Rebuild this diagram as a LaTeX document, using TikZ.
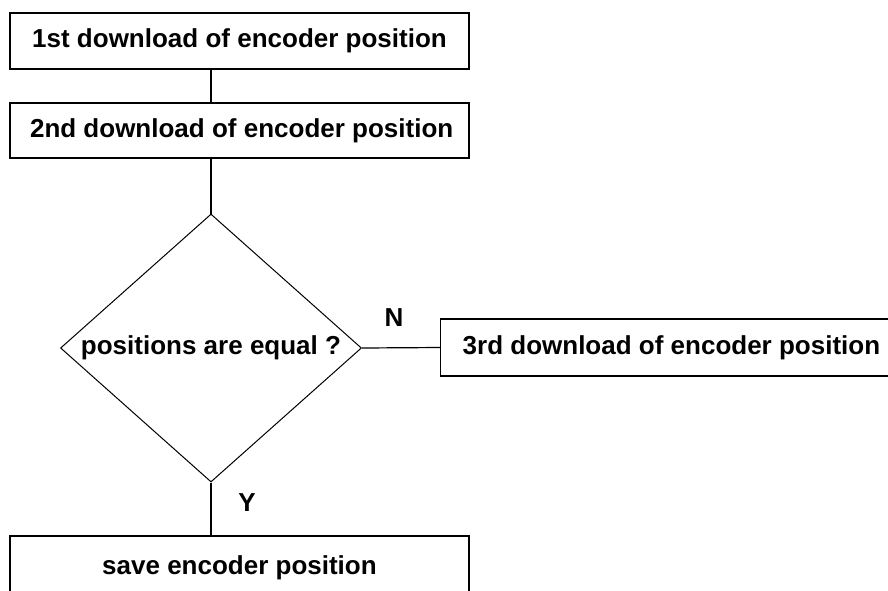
\documentclass[tikz,border=0pt]{standalone}
\usepackage{fontspec}
\setmainfont{Liberation Sans}
\usetikzlibrary{shapes.geometric}
\begin{document}
\begin{tikzpicture}[x=1pt,y=-1pt,
  lbl/.style={font=\fontsize{26}{31}\selectfont\bfseries},
  procbox/.style={draw=black, line width=1.4pt, rectangle, lbl, inner sep=0pt},
  decision/.style={draw=black, line width=1pt, diamond, lbl, inner sep=0pt, aspect=1.12,
    minimum width=301pt, minimum height=268pt},
  conn/.style={draw=black, line width=1.2pt}]
\useasboundingbox (0,0) rectangle (888,590);
\fill[white] (0,0) rectangle (888,590);
\node[procbox, minimum width=459pt, minimum height=56pt] (b1) at (239.5,41) {1st download of encoder position};
\node[procbox, minimum width=459pt, minimum height=55pt] (b2) at (239.5,130.5) {\,2nd download of encoder position};
\node[decision] (dia) at (211,348) {positions are equal ?};
\node[procbox, anchor=west, inner xsep=22pt, minimum height=57pt] (b3) at (440,347.5) {3rd download of encoder position\hspace*{30pt}};
\node[procbox, minimum width=459pt, minimum height=64pt] (b4) at (239.5,568) {save encoder position};
\node[lbl] (n) at (394,318) {N};
\node[lbl] (y) at (247,503) {Y};
\draw[conn] (b1.south -| dia.north) -- (b2.north -| dia.north);
\draw[conn] (b2.south -| dia.north) -- (dia.north);
\draw[conn] (dia.east) -- (b3.west);
\draw[conn] (dia.south) -- (b4.north -| dia.south);
\end{tikzpicture}
\end{document}
